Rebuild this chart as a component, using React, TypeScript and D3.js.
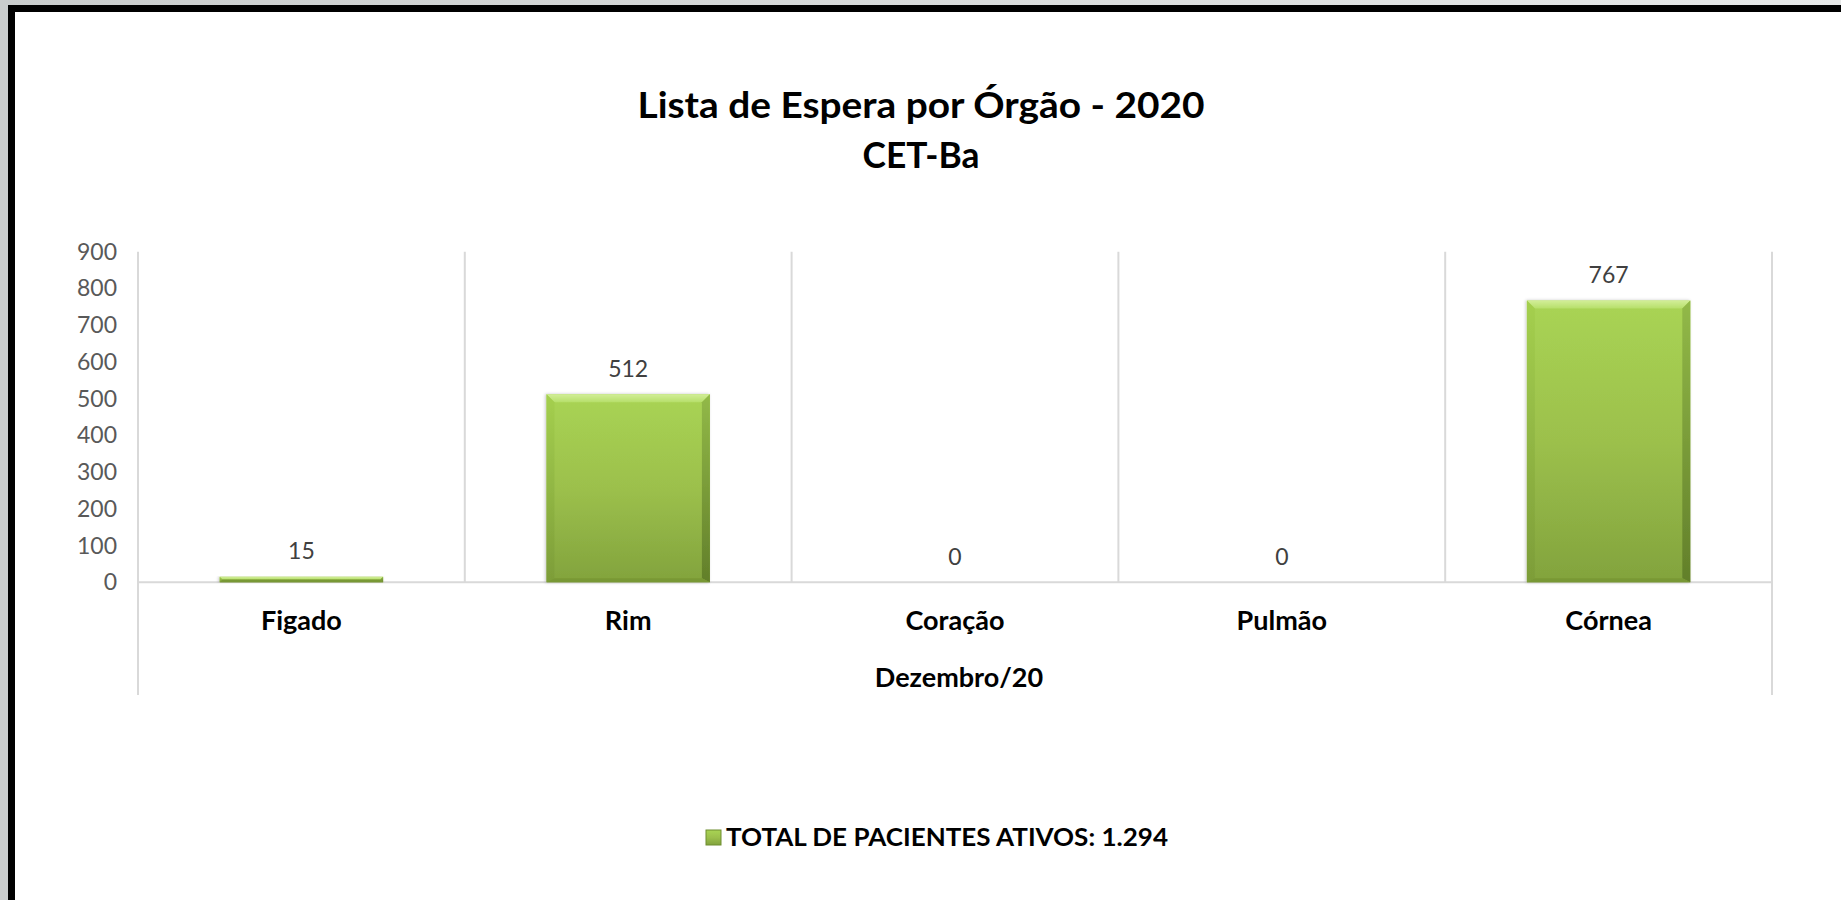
import React from "react";
import * as d3 from "d3";

const categories = ["Figado", "Rim", "Coração", "Pulmão", "Córnea"];
const values = [15, 512, 0, 0, 767];
const yTicks = [0, 100, 200, 300, 400, 500, 600, 700, 800, 900];
const titleLines = ["Lista de Espera por Órgão - 2020", "CET-Ba"];
const axisTitle = "Dezembro/20";
const legendLabel = "TOTAL DE PACIENTES ATIVOS: 1.294";

const W = 1841;
const H = 900;
const FONT = "Lato, 'Open Sans', sans-serif";

export default function App() {
  const x = d3
    .scaleBand<string>()
    .domain(categories)
    .range([138, 1772])
    .paddingInner(0.5)
    .paddingOuter(0.25);
  const y = d3.scaleLinear().domain([0, 900]).range([582.3, 251.7]);
  const step = x.step();
  const bw = x.bandwidth();
  const bev = 8;

  const dividers = d3.range(categories.length + 1).map((i) => 138 + i * step);

  return (
    <svg
      width={W}
      height={H}
      style={{ position: "absolute", left: 0, top: 0, display: "block" }}
    >
      <defs>
        <linearGradient id="bg" x1="0" y1="0" x2="1" y2="0">
          <stop offset="0" stopColor="#c9cccc" />
          <stop offset="1" stopColor="#e6e8e8" />
        </linearGradient>
        <linearGradient id="barFill" x1="0" y1="0" x2="0" y2="1">
          <stop offset="0" stopColor="#a9d454" />
          <stop offset="0.5" stopColor="#9cc04c" />
          <stop offset="1" stopColor="#82a33d" />
        </linearGradient>
        <linearGradient id="barTop" x1="0" y1="0" x2="0" y2="1">
          <stop offset="0" stopColor="#d2ee98" />
          <stop offset="1" stopColor="#b6df6a" />
        </linearGradient>
        <linearGradient id="barRight" x1="0" y1="0" x2="0" y2="1">
          <stop offset="0" stopColor="#92b948" />
          <stop offset="1" stopColor="#627f2a" />
        </linearGradient>
        <linearGradient id="barLeft" x1="0" y1="0" x2="0" y2="1">
          <stop offset="0" stopColor="#a4cf4e" />
          <stop offset="1" stopColor="#7c9c38" />
        </linearGradient>
        <filter id="shadow" x="-10%" y="-10%" width="120%" height="120%">
          <feDropShadow dx="-1" dy="0" stdDeviation="1.5" floodColor="#000" floodOpacity="0.22" />
        </filter>
      </defs>

      <rect x={0} y={0} width={W} height={H} fill="url(#bg)" />
      <rect x={11.5} y={8.5} width={W + 50} height={H + 50} fill="#ffffff" stroke="#000" strokeWidth={7} />

      {/* Title */}
      <text
        x={921}
        y={118}
        textAnchor="middle"
        fontFamily={FONT}
        fontWeight="bold"
        fontSize={37}
        fill="#000"
        textLength={567}
        lengthAdjust="spacingAndGlyphs"
      >
        {titleLines[0]}
      </text>
      <text
        x={921}
        y={168}
        textAnchor="middle"
        fontFamily={FONT}
        fontWeight="bold"
        fontSize={37}
        fill="#000"
        textLength={117}
        lengthAdjust="spacingAndGlyphs"
      >
        {titleLines[1]}
      </text>

      {/* Category dividers */}
      {dividers.map((d, i) => {
        const outer = i === 0 || i === dividers.length - 1;
        return (
          <line
            key={"div" + i}
            x1={d}
            x2={d}
            y1={y(900)}
            y2={outer ? 695 : y(0)}
            stroke="#d9d9d9"
            strokeWidth={2}
          />
        );
      })}
      <line x1={138} x2={1772} y1={y(0)} y2={y(0)} stroke="#d9d9d9" strokeWidth={2} />

      {/* Y tick labels */}
      {yTicks.map((t) => (
        <text
          key={"t" + t}
          x={117}
          y={y(t) + 8}
          textAnchor="end"
          fontFamily={FONT}
          fontSize={23}
          fill="#595959"
        >
          {t}
        </text>
      ))}

      {/* Bars */}
      {categories.map((c, i) => {
        const v = values[i];
        const x0 = x(c)!;
        const x1 = x0 + bw;
        const yTop = y(v);
        const yBot = y(0);
        const h = yBot - yTop;
        if (h <= 0) return null;
        const b = Math.min(bev, h / 2);
        const bb = Math.min(4, h / 2);
        return (
          <g key={"bar" + c} filter="url(#shadow)">
            <rect x={x0} y={yTop} width={bw} height={h} fill="url(#barFill)" />
            <polygon
              points={`${x0},${yTop} ${x1},${yTop} ${x1 - b},${yTop + b} ${x0 + b},${yTop + b}`}
              fill="url(#barTop)"
            />
            <polygon
              points={`${x0},${yTop} ${x0 + b},${yTop + b} ${x0 + b},${yBot - bb} ${x0},${yBot}`}
              fill="url(#barLeft)"
              opacity={0.9}
            />
            <polygon
              points={`${x1},${yTop} ${x1},${yBot} ${x1 - b},${yBot - bb} ${x1 - b},${yTop + b}`}
              fill="url(#barRight)"
            />
            <polygon
              points={`${x0},${yBot} ${x0 + b},${yBot - bb} ${x1 - b},${yBot - bb} ${x1},${yBot}`}
              fill="#789834"
            />
          </g>
        );
      })}

      {/* Data labels */}
      {categories.map((c, i) => (
        <text
          key={"lbl" + c}
          x={x(c)! + bw / 2}
          y={y(values[i]) - 17.5}
          textAnchor="middle"
          fontFamily={FONT}
          fontSize={23}
          fill="#404040"
        >
          {values[i]}
        </text>
      ))}

      {/* Category labels */}
      {categories.map((c) => (
        <text
          key={"cat" + c}
          x={x(c)! + bw / 2}
          y={630}
          textAnchor="middle"
          fontFamily={FONT}
          fontWeight="bold"
          fontSize={27}
          fill="#000"
        >
          {c}
        </text>
      ))}

      {/* Axis title */}
      <text x={959} y={687} textAnchor="middle" fontFamily={FONT} fontWeight="bold" fontSize={27} fill="#000">
        {axisTitle}
      </text>

      {/* Legend */}
      <rect x={706} y={830} width={15} height={15} fill="url(#barFill)" stroke="#6f8e30" strokeWidth={1} />
      <text
        x={726}
        y={846}
        fontFamily={FONT}
        fontWeight="bold"
        fontSize={25}
        fill="#000"
        textLength={442}
        lengthAdjust="spacingAndGlyphs"
      >
        {legendLabel}
      </text>
    </svg>
  );
}
